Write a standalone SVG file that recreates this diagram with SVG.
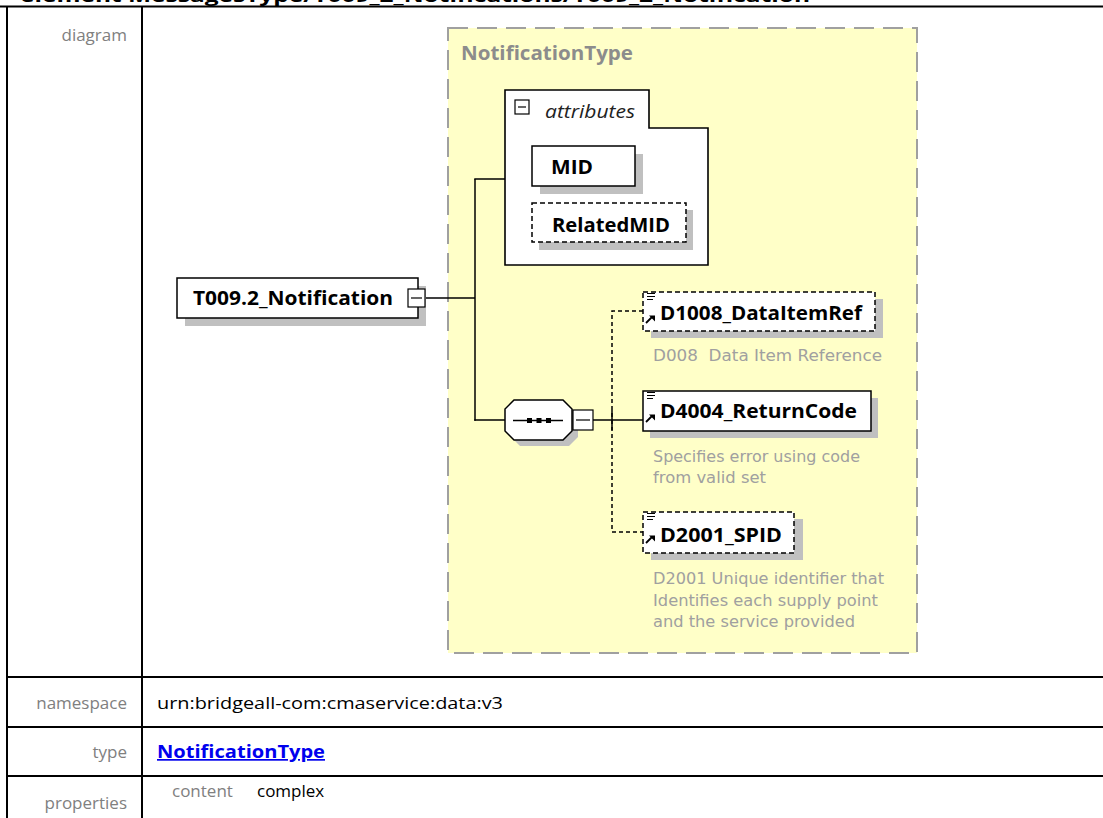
<svg xmlns="http://www.w3.org/2000/svg" width="1103" height="818" viewBox="0 0 1103 818">
<style>
.lbl{font-family:"Open Sans","Noto Sans",sans-serif;font-size:17px;fill:#808080}
.val{font-family:"Open Sans","Noto Sans",sans-serif;font-size:17px;fill:#000}
.nm{font-family:"Open Sans","Noto Sans",sans-serif;font-size:19px;font-weight:bold;fill:#000}
.ds{font-family:"DejaVu Sans","Noto Sans",sans-serif;font-size:15px;fill:#a0a0a0;white-space:pre}
.box{fill:#fff;stroke:#000;stroke-width:1.5}
.dbox{fill:#fff;stroke:#000;stroke-width:1.5;stroke-dasharray:5 3}
.sh{fill:#c0c0c0}
.ln{stroke:#000;stroke-width:1.5;fill:none}
.dln{stroke:#000;stroke-width:1.5;fill:none;stroke-dasharray:4 3}
.grid{stroke:#000;stroke-width:2;fill:none}
</style>
<defs>
<g id="icons">
<path d="M647 0.5H655M647 3.5H655M647 6.5H653" stroke="#000" stroke-width="1.2"/>
<path d="M646 30L652 24" stroke="#000" stroke-width="1.8"/>
<path d="M649 22.5H655V28.5Z" fill="#000"/>
</g>
</defs>
<rect width="1103" height="818" fill="#fff"/>
<text x="20" y="2" font-family="Open Sans,sans-serif" font-size="18" font-weight="bold" fill="#000" textLength="790" lengthAdjust="spacingAndGlyphs">element MessagesType/T009_2_Notifications/T009_2_Notification</text>
<g id="table">
<line class="grid" x1="0" y1="6.5" x2="1103" y2="6.5" stroke-width="2.5"/>
<line class="grid" x1="7" y1="6" x2="7" y2="818"/>
<line class="grid" x1="142" y1="6" x2="142" y2="818"/>
<line class="grid" x1="7" y1="677" x2="1103" y2="677"/>
<line class="grid" x1="7" y1="727" x2="1103" y2="727"/>
<line class="grid" x1="7" y1="776" x2="1103" y2="776"/>
<text class="lbl" x="127" y="41" text-anchor="end">diagram</text>
<text class="lbl" x="127" y="709" text-anchor="end">namespace</text>
<text class="val" x="157" y="709" textLength="346" lengthAdjust="spacingAndGlyphs">urn:bridgeall-com:cmaservice:data:v3</text>
<text class="lbl" x="127" y="758" text-anchor="end">type</text>
<text x="157" y="758" font-family="Open Sans,sans-serif" font-size="17" font-weight="bold" fill="#0000ee" text-decoration="underline" textLength="168" lengthAdjust="spacingAndGlyphs">NotificationType</text>
<text class="lbl" x="127" y="809" text-anchor="end">properties</text>
<text class="lbl" x="172" y="797">content</text>
<text class="val" x="257" y="797">complex</text>
</g>
<g id="NotificationType">
<rect x="448" y="28" width="469" height="625" fill="#ffffc8" stroke="#a0a0a0" stroke-width="2" stroke-dasharray="20 9"/>
<text x="461" y="60" font-family="Open Sans,sans-serif" font-size="19" font-weight="bold" fill="#8c8c8c" textLength="172" lengthAdjust="spacingAndGlyphs">NotificationType</text>
</g>
<g id="connectors">
<line class="ln" x1="425" y1="298" x2="475" y2="298"/>
<line class="ln" x1="475" y1="179" x2="475" y2="420.75"/>
<line class="ln" x1="474.25" y1="179" x2="505" y2="179"/>
<line class="ln" x1="474.25" y1="420" x2="505" y2="420"/>
<line class="ln" x1="593" y1="420" x2="643" y2="420"/>
<line class="ln" x1="612" y1="410" x2="612" y2="430"/>
<path class="dln" d="M643 311H612V532H643"/>
</g>
<g id="attributes">
<path d="M505 90H649V128H708V265H505Z" fill="#fff" stroke="#000" stroke-width="1.6"/>
<rect x="515" y="100" width="14" height="14" fill="#fff" stroke="#000" stroke-width="1.2"/>
<line x1="518" y1="107" x2="526" y2="107" stroke="#000" stroke-width="1.2"/>
<text x="545" y="118" font-family="Open Sans,sans-serif" font-size="18" font-style="italic" fill="#222" textLength="90" lengthAdjust="spacingAndGlyphs">attributes</text>
</g>
<g id="MID">
<rect class="sh" x="540" y="154" width="103" height="40"/>
<rect class="box" x="532" y="146" width="103" height="40"/>
<text class="nm" x="551" y="174" textLength="42" lengthAdjust="spacingAndGlyphs">MID</text>
</g>
<g id="RelatedMID">
<rect class="sh" x="539" y="210" width="154" height="40"/>
<rect class="dbox" x="532" y="203" width="154" height="39"/>
<text class="nm" x="552" y="232" textLength="118" lengthAdjust="spacingAndGlyphs">RelatedMID</text>
</g>
<g id="T009.2_Notification">
<rect class="sh" x="185" y="286" width="241" height="40"/>
<rect class="box" x="177" y="278" width="241" height="40"/>
<text class="nm" x="193" y="305" textLength="200" lengthAdjust="spacingAndGlyphs">T009.2_Notification</text>
<rect x="408" y="289" width="17" height="18" fill="#fff" stroke="#000" stroke-width="1.2"/>
<line x1="411" y1="298" x2="422" y2="298" stroke="#000" stroke-width="1.2"/>
</g>
<g id="sequence">
<polygon class="sh" points="520,406 569,406 578,415 578,437 569,446 520,446 511,437 511,415"/>
<polygon points="514,400 563,400 572,409 572,431 563,440 514,440 505,431 505,409" fill="#fff" stroke="#000" stroke-width="1.5"/>
<line x1="513" y1="420.5" x2="563" y2="420.5" stroke="#000" stroke-width="1.5"/>
<rect x="527" y="418" width="5" height="5" fill="#000"/>
<rect x="536.5" y="418" width="5" height="5" fill="#000"/>
<rect x="546" y="418" width="5" height="5" fill="#000"/>
<rect x="573" y="410" width="20" height="20" fill="#fff" stroke="#000" stroke-width="1.2"/>
<line x1="576" y1="420" x2="590" y2="420" stroke="#000" stroke-width="1.2"/>
</g>
<g id="D1008_DataItemRef">
<rect class="sh" x="651" y="299" width="232" height="39"/>
<rect class="dbox" x="643" y="292" width="232" height="39"/>
<use href="#icons" transform="translate(0,293)"/>
<text class="nm" x="660" y="320" textLength="202" lengthAdjust="spacingAndGlyphs">D1008_DataItemRef</text>
<text class="ds" x="653" y="361" textLength="229" lengthAdjust="spacingAndGlyphs">D008  Data Item Reference</text>
</g>
<g id="D4004_ReturnCode">
<rect class="sh" x="650" y="398" width="228" height="40"/>
<rect class="box" x="643" y="391" width="228" height="40"/>
<use href="#icons" transform="translate(0,392)"/>
<text class="nm" x="660" y="418" textLength="197" lengthAdjust="spacingAndGlyphs">D4004_ReturnCode</text>
<text class="ds" x="653" y="462" textLength="207" lengthAdjust="spacingAndGlyphs">Specifies error using code</text>
<text class="ds" x="653" y="483" textLength="113" lengthAdjust="spacingAndGlyphs">from valid set</text>
</g>
<g id="D2001_SPID">
<rect class="sh" x="651" y="519" width="152" height="41"/>
<rect class="dbox" x="643" y="512" width="151" height="41"/>
<use href="#icons" transform="translate(0,513)"/>
<text class="nm" x="660" y="542" textLength="122" lengthAdjust="spacingAndGlyphs">D2001_SPID</text>
<text class="ds" x="653" y="584" textLength="231" lengthAdjust="spacingAndGlyphs">D2001 Unique identifier that</text>
<text class="ds" x="653" y="605.5" textLength="225" lengthAdjust="spacingAndGlyphs">Identifies each supply point</text>
<text class="ds" x="653" y="627" textLength="202" lengthAdjust="spacingAndGlyphs">and the service provided</text>
</g>
</svg>
